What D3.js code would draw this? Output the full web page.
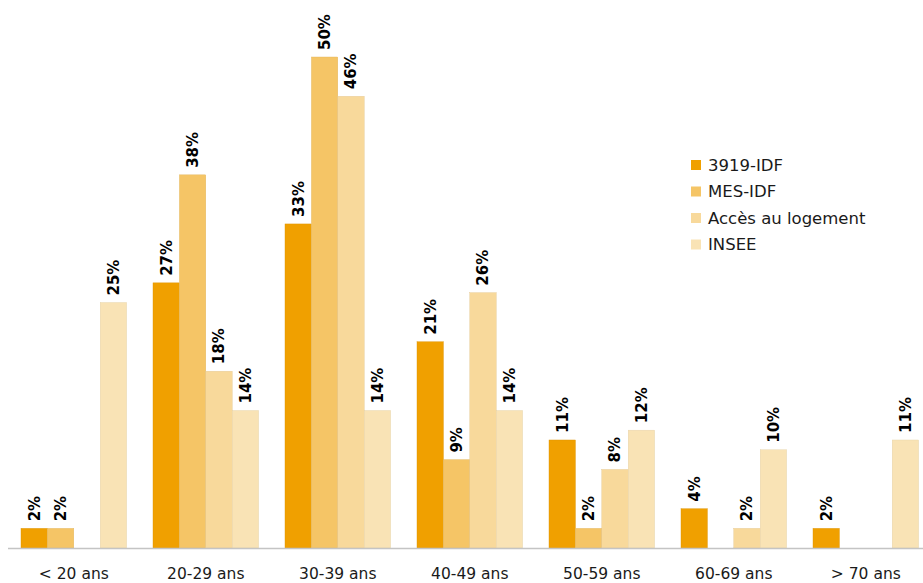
<!DOCTYPE html>
<html>
<head>
<meta charset="utf-8">
<script src="https://cdn.jsdelivr.net/npm/d3@7"></script>
<style>
  html, body { margin: 0; padding: 0; background: #fff; }
  svg { display: block; }
</style>
</head>
<body>
<svg id="chart" width="923" height="583"></svg>
<script>
// Age groups along the x axis
const categories = ["< 20 ans", "20-29 ans", "30-39 ans", "40-49 ans", "50-59 ans", "60-69 ans", "> 70 ans"];

// Share of each age group, in percent (null = no value)
const series3919 = [2, 27, 33, 21, 11, 4, 2];
const seriesMES = [2, 38, 50, 9, 2, null, null];
const seriesAcces = [null, 18, 46, 26, 8, 2, null];
const seriesINSEE = [25, 14, 14, 14, 12, 10, 11];

const seriesNames = ["3919-IDF", "MES-IDF", "Accès au logement", "INSEE"];
const seriesColors = ["#f0a000", "#f5c566", "#f8d99b", "#f9e3b5"];
const seriesValues = [series3919, seriesMES, seriesAcces, seriesINSEE];

const svg = d3.select("#chart");
const baseY = 548;
const textFont = "'DejaVu Sans', sans-serif";

const x0 = d3.scaleBand()
  .domain(categories)
  .range([21, 21 + 132 * 6.8])
  .paddingInner(0.2)
  .paddingOuter(0);

const x1 = d3.scaleBand()
  .domain(seriesNames)
  .range([0, x0.bandwidth()])
  .padding(0);

const y = d3.scaleLinear()
  .domain([0, 50])
  .range([baseY, 57]);

const color = d3.scaleOrdinal().domain(seriesNames).range(seriesColors);

// Flatten into one record per bar
const bars = [];
categories.forEach((c, i) => {
  seriesNames.forEach((s, j) => {
    const v = seriesValues[j][i];
    if (v != null) bars.push({ cat: c, series: s, value: v });
  });
});

const g = svg.append("g");

g.selectAll("rect.bar")
  .data(bars)
  .join("rect")
  .attr("class", "bar")
  .attr("x", d => x0(d.cat) + x1(d.series))
  .attr("width", x1.bandwidth())
  .attr("y", d => y(d.value))
  .attr("height", d => y(0) - y(d.value))
  .attr("fill", d => color(d.series))
  .attr("stroke", d => d3.color(color(d.series)).darker(0.25))
  .attr("stroke-width", 0.4);

// Value labels, rotated above each bar
g.selectAll("text.val")
  .data(bars)
  .join("text")
  .attr("class", "val")
  .attr("transform", d => {
    const cx = x0(d.cat) + x1(d.series) + x1.bandwidth() / 2;
    return `translate(${cx},${y(d.value) - 7}) rotate(-90)`;
  })
  .attr("dy", "0.36em")
  .attr("text-anchor", "start")
  .style("font-family", textFont)
  .style("font-weight", "bold")
  .style("font-size", "15px")
  .attr("fill", "#000")
  .text(d => d.value + "%");

// Baseline
svg.append("line")
  .attr("x1", 8).attr("x2", 923)
  .attr("y1", baseY + 0.5).attr("y2", baseY + 0.5)
  .attr("stroke", "#c4c4c4")
  .attr("stroke-width", 1.5);

// Category labels
const xAxis = d3.axisBottom(x0).tickSize(0).tickPadding(0);
const axisG = svg.append("g")
  .attr("transform", `translate(0,${baseY})`)
  .call(xAxis);
axisG.select(".domain").remove();
axisG.selectAll("text")
  .attr("y", 31)
  .attr("dy", "0")
  .style("font-family", textFont)
  .style("font-size", "15.5px")
  .attr("fill", "#1a1a1a");

// Legend
const legend = svg.append("g").attr("transform", "translate(691,165)");
const item = legend.selectAll("g")
  .data(seriesNames)
  .join("g")
  .attr("transform", (d, i) => `translate(0,${i * 26.5})`);
item.append("rect")
  .attr("x", 0).attr("y", -5)
  .attr("width", 10).attr("height", 10)
  .attr("fill", d => color(d));
item.append("text")
  .attr("x", 17)
  .attr("dy", "0.36em")
  .style("font-family", textFont)
  .style("font-size", "16.5px")
  .attr("fill", "#1a1a1a")
  .text(d => d);
</script>
</body>
</html>
